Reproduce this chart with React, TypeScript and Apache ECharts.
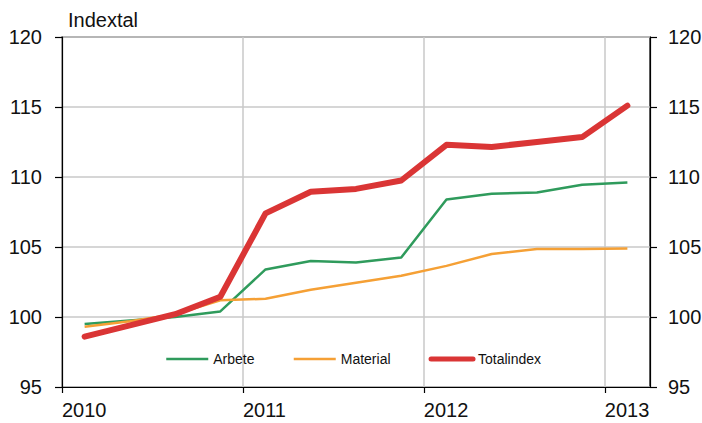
import React, { useEffect, useRef } from "react";
import * as echarts from "echarts";

const periods = [2010.125, 2010.375, 2010.625, 2010.875, 2011.125, 2011.375, 2011.625, 2011.875, 2012.125, 2012.375, 2012.625, 2012.875, 2013.125];
const arbete = [99.5, 99.75, 100.0, 100.4, 103.4, 104.0, 103.9, 104.25, 108.4, 108.8, 108.9, 109.45, 109.6];
const material = [99.3, 99.7, 100.2, 101.2, 101.3, 101.95, 102.45, 102.95, 103.65, 104.5, 104.85, 104.85, 104.9];
const totalindex = [98.6, 99.4, 100.2, 101.45, 107.4, 108.95, 109.15, 109.75, 112.3, 112.15, 112.5, 112.85, 115.1];
const yearTicks = [2010, 2011, 2012, 2013];
const seriesNames = ["Arbete", "Material", "Totalindex"];
const yTitle = "Indextal";

const FONT = "Liberation Sans, Arial, sans-serif";

export default function App() {
  const ref = useRef<HTMLDivElement>(null);
  useEffect(() => {
    if (!ref.current) return;
    const chart = echarts.init(ref.current, undefined, { renderer: "svg" });
    const pair = (ys: number[]) => periods.map((x, i) => [x, ys[i]]);
    const widths = [2.5, 2.5, 5];
    const yAxisBase = {
      type: "value",
      min: 95,
      max: 120,
      interval: 5,
      axisLine: { show: true, lineStyle: { color: "#000", width: 1.2 } },
      axisTick: { show: true, inside: false, length: 7, lineStyle: { color: "#000", width: 1.2 } },
      axisLabel: { color: "#111", fontSize: 20, fontFamily: FONT },
    };
    chart.setOption({
      animation: false,
      backgroundColor: "#fff",
      grid: {
        left: 62,
        right: 52,
        top: 37,
        bottom: 36,
        show: true,
        borderColor: "#000",
        borderWidth: 1.2,
        outerBoundsMode: "none",
      },
      graphic: [
        {
          type: "text",
          left: 68,
          top: 10,
          style: { text: yTitle, font: `20px ${FONT}`, fill: "#111" },
        },
      ],
      legend: {
        left: 160,
        top: 347,
        itemWidth: 42,
        itemHeight: 14,
        itemGap: 38,
        itemStyle: { opacity: 0 },
        textStyle: { color: "#111", fontSize: 14, fontFamily: FONT },
        data: seriesNames.map((n, i) => ({ name: n, lineStyle: { width: widths[i] } })),
      },
      xAxis: {
        type: "value",
        min: 2010,
        max: 2013.25,
        interval: 1,
        axisLine: { show: true, onZero: false, lineStyle: { color: "#000", width: 1.2 } },
        axisTick: { show: true, inside: false, length: 6, customValues: yearTicks, lineStyle: { color: "#000", width: 1.2 } },
        axisLabel: {
          customValues: yearTicks,
          color: "#111",
          fontSize: 20,
          fontFamily: FONT,
          align: "left",
          margin: 13,
          formatter: (v: number) => String(v),
        },
        splitLine: { show: true, lineStyle: { color: "#c8c8c8", width: 1.5 } },
      },
      yAxis: [
        {
          ...yAxisBase,
          position: "left",
          axisLabel: { ...yAxisBase.axisLabel, margin: 20 },
          splitLine: { show: true, lineStyle: { color: "#c8c8c8", width: 1.5 } },
        },
        {
          ...yAxisBase,
          position: "right",
          axisLabel: { ...yAxisBase.axisLabel, margin: 18 },
          splitLine: { show: false },
        },
      ],
      series: [
        {
          name: seriesNames[0],
          type: "line",
          data: pair(arbete),
          showSymbol: false,
          symbol: "none",
          color: "#2f9b5c",
          lineStyle: { width: 2.5, color: "#2f9b5c", join: "round" },
        },
        {
          name: seriesNames[1],
          type: "line",
          data: pair(material),
          showSymbol: false,
          symbol: "none",
          color: "#f5a035",
          lineStyle: { width: 2.5, color: "#f5a035", join: "round" },
        },
        {
          name: seriesNames[2],
          type: "line",
          data: pair(totalindex),
          showSymbol: false,
          symbol: "none",
          color: "#da3535",
          lineStyle: { width: 6, color: "#da3535", cap: "round", join: "round" },
        },
      ],
    });
    return () => chart.dispose();
  }, []);
  return (
    <div
      ref={ref}
      style={{ position: "fixed", left: 0, top: 0, width: 702, height: 423 }}
    />
  );
}
